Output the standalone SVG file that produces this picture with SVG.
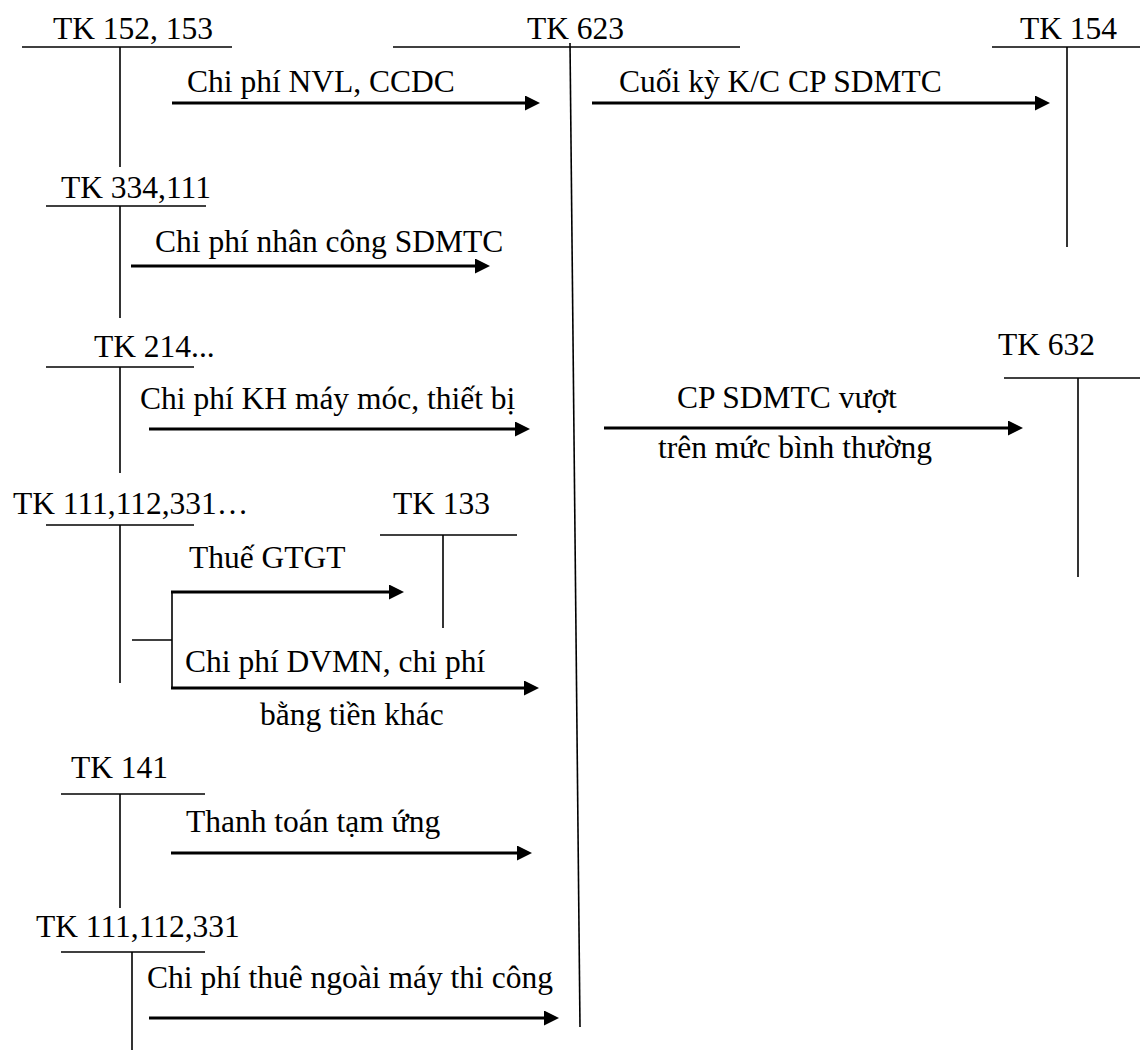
<svg xmlns="http://www.w3.org/2000/svg" width="1140" height="1050" viewBox="0 0 1140 1050">
<style>
text{font-family:"Liberation Serif","Times New Roman",serif;font-size:31.5px;fill:#000}
.t{stroke:#000;stroke-width:1.6;fill:none}
.a{stroke:#000;stroke-width:2.8;fill:none}
</style>
<defs>
<marker id="ah" markerUnits="userSpaceOnUse" markerWidth="16" markerHeight="16" refX="3" refY="7.5" orient="auto">
<path d="M0,0 L15,7.5 L0,15 z" fill="#000"/>
</marker>
</defs>
<rect width="1140" height="1050" fill="#fff"/>
<g id="tk152"><text x="53" y="39">TK 152, 153</text><line class="t" x1="22" y1="47" x2="232" y2="47"/><line class="t" x1="120" y1="47" x2="120" y2="167"/></g>
<g id="tk623"><text x="527" y="39">TK 623</text><line class="t" x1="393" y1="47" x2="740" y2="47"/><line class="t" x1="570" y1="43" x2="580" y2="1027"/></g>
<g id="tk154"><text x="1020" y="39">TK 154</text><line class="t" x1="992" y1="47" x2="1140" y2="47"/><line class="t" x1="1067" y1="47" x2="1067" y2="247"/></g>
<g id="tk334"><text x="61" y="198">TK 334,111</text><line class="t" x1="46" y1="206" x2="206" y2="206"/><line class="t" x1="120" y1="206" x2="120" y2="318"/></g>
<g id="tk214"><text x="94" y="357">TK 214...</text><line class="t" x1="46" y1="367" x2="194" y2="367"/><line class="t" x1="120" y1="367" x2="120" y2="473"/></g>
<g id="tk632"><text x="998" y="355">TK 632</text><line class="t" x1="1004" y1="378" x2="1140" y2="378"/><line class="t" x1="1078" y1="378" x2="1078" y2="577"/></g>
<g id="tk111a"><text x="13" y="514">TK 111,112,331…</text><line class="t" x1="46" y1="525" x2="194" y2="525"/><line class="t" x1="120" y1="525" x2="120" y2="683"/></g>
<g id="tk133"><text x="393" y="514">TK 133</text><line class="t" x1="380" y1="535" x2="517" y2="535"/><line class="t" x1="443" y1="535" x2="443" y2="628"/></g>
<g id="tk141"><text x="71" y="778">TK 141</text><line class="t" x1="61" y1="794" x2="205" y2="794"/><line class="t" x1="120" y1="794" x2="120" y2="908"/></g>
<g id="tk111b"><text x="36" y="937">TK 111,112,331</text><line class="t" x1="61" y1="952" x2="205" y2="952"/><line class="t" x1="132" y1="952" x2="132" y2="1050"/></g>
<g id="connectors">
<line class="a" x1="172" y1="103" x2="528" y2="103" marker-end="url(#ah)"/>
<text x="187" y="92">Chi phí NVL, CCDC</text>
<line class="a" x1="592" y1="103" x2="1038" y2="103" marker-end="url(#ah)"/>
<text x="619" y="92">Cuối kỳ K/C CP SDMTC</text>
<line class="a" x1="131" y1="266" x2="478" y2="266" marker-end="url(#ah)"/>
<text x="155" y="252">Chi phí nhân công SDMTC</text>
<line class="a" x1="149" y1="429" x2="518" y2="429" marker-end="url(#ah)"/>
<text x="140" y="409">Chi phí KH máy móc, thiết bị</text>
<line class="a" x1="604" y1="428" x2="1011" y2="428" marker-end="url(#ah)"/>
<text x="677" y="408">CP SDMTC vượt</text>
<text x="658" y="458">trên mức bình thường</text>
<line class="t" x1="132" y1="640" x2="172" y2="640"/>
<line class="t" x1="172" y1="592" x2="172" y2="688"/>
<line class="a" x1="171" y1="592" x2="392" y2="592" marker-end="url(#ah)"/>
<text x="189" y="568">Thuế GTGT</text>
<line class="a" x1="171" y1="688" x2="527" y2="688" marker-end="url(#ah)"/>
<text x="185" y="672">Chi phí DVMN, chi phí</text>
<text x="260" y="725">bằng tiền khác</text>
<line class="a" x1="171" y1="853" x2="520" y2="853" marker-end="url(#ah)"/>
<text x="186" y="832">Thanh toán tạm ứng</text>
<line class="a" x1="149" y1="1018" x2="547" y2="1018" marker-end="url(#ah)"/>
<text x="147" y="988">Chi phí thuê ngoài máy thi công</text>
</g>
</svg>
